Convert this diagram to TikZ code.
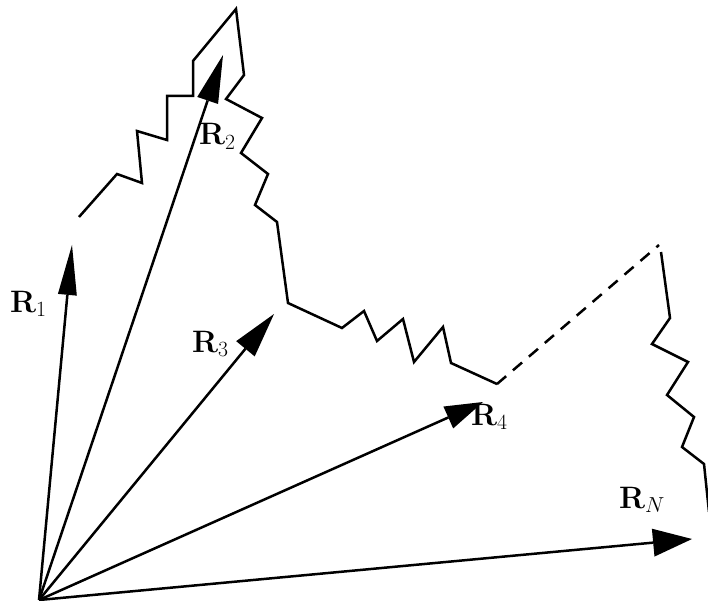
\RequirePackage{fix-cm}
\documentclass[tikz,border=0pt]{standalone}
\usetikzlibrary{calc}
\begin{document}
\begin{tikzpicture}[x=1pt,y=-1pt,
  vecline/.style={line width=2.5pt},
  chain/.style={line width=2.5pt},
  gapline/.style={line width=2.5pt,dash pattern=on 12pt off 9pt},
  lbl/.style={anchor=base west,inner sep=0pt,font=\fontsize{31}{37}\selectfont}]
\useasboundingbox (0,0) rectangle (708,601);
% origin and tips
\coordinate (O) at (39,600);
\coordinate (t1) at (72,245);
\coordinate (t2) at (223,55);
\coordinate (t3) at (274,314);
\coordinate (t4) at (483,402);
\coordinate (tn) at (692,539);
% vectors
\foreach \t/\l/\w in {t1/50pt/9.5pt, t2/48pt/11pt, t3/45pt/12pt, t4/38pt/12pt, tn/39pt/14pt}{
  \coordinate (m\t) at ($(\t)!\l!(O)$);
  \draw[vecline] (O) -- (m\t);
  \fill ($(m\t)!\w!90:(\t)$) -- (\t) -- ($(m\t)!\w!-90:(\t)$) -- cycle;
}
% labels
\node[lbl] (l1) at (10,312) {$\mathbf{R}_1$};
\node[lbl] (l2) at (199,145) {$\mathbf{R}_2$};
\node[lbl] (l3) at (192,352) {$\mathbf{R}_3$};
\node[lbl] (l4) at (471,425) {$\mathbf{R}_4$};
\node[lbl] (ln) at (619,508) {$\mathbf{R}_N$};
% chain
\coordinate (c0) at (79,217);
\coordinate (ce) at (497,384);
\coordinate (d1) at (659,245);
\coordinate (d2) at (661,252);
\coordinate (de) at (709,512);
\draw[chain] (c0) -- (117,174) -- (142,183) -- (137,131) -- (167,140) -- (167,96)
  -- (193,96) -- (193,61) -- (236,9) -- (244,75) -- (226,99) -- (262,118)
  -- (241,153) -- (268,174) -- (255,205) -- (277,222) -- (288,303) -- (342,328)
  -- (364,311) -- (377,341) -- (403,319) -- (414,362) -- (443,327) -- (451,363)
  -- (ce);
\draw[gapline] (ce) -- (d1);
\draw[chain] (d2) -- (670,318) -- (652,344) -- (688,362) -- (667,395) -- (694,417)
  -- (682,447) -- (704,464) -- (de);
\end{tikzpicture}
\end{document}
